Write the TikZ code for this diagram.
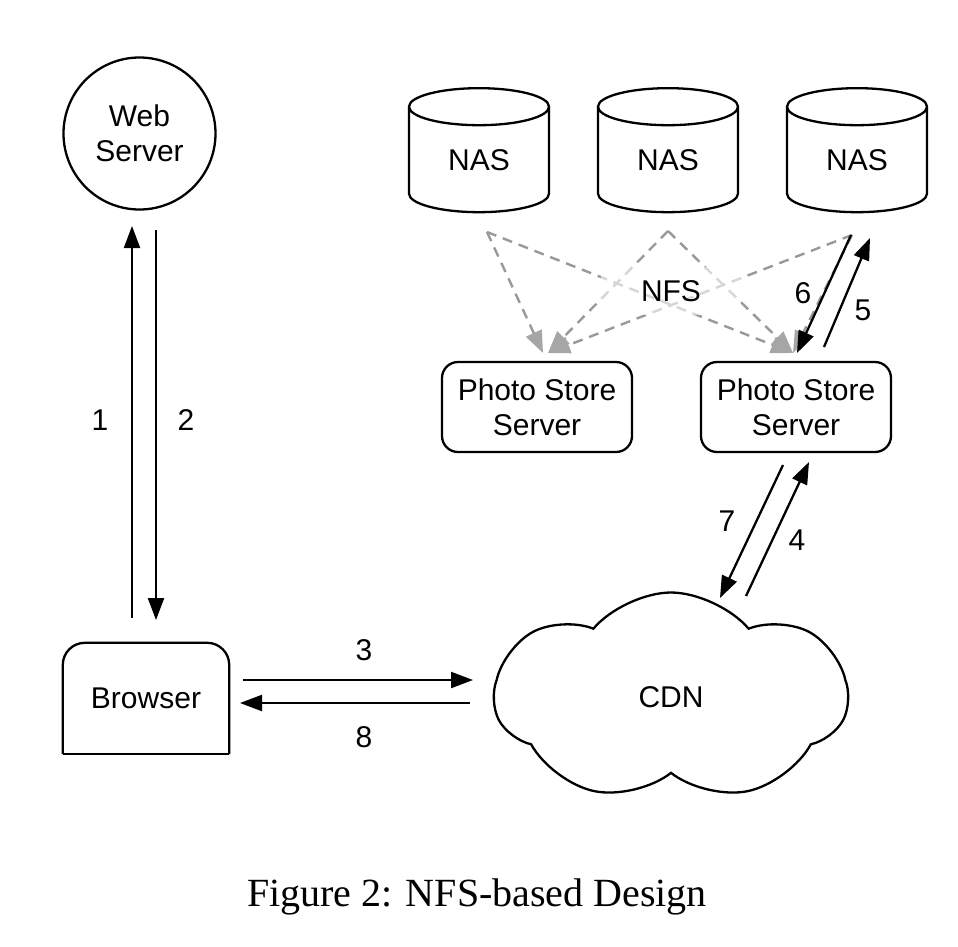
\documentclass[tikz,border=0pt]{standalone}
\usepackage{fontspec}
\setmainfont{Liberation Sans}
\newfontfamily\capfont{Liberation Serif}
\usetikzlibrary{shapes.geometric, shapes.symbols, arrows.meta}
\tikzset{
    every node/.style={font=\fontsize{30}{35}\selectfont, align=center, inner sep=0pt},
    flow/.style={line width=2.3pt, -{Triangle[length=22pt, width=16pt]}},
    nfs/.style={line width=2.4pt, draw=black!40, dash pattern=on 10pt off 7pt,
        -{Triangle[length=22pt, width=17pt, color=black!35]}},
    storage/.style={cylinder, draw, line width=2.3pt, shape border rotate=90,
        aspect=0.6, minimum width=140pt, minimum height=124pt},
    server/.style={draw, line width=2.3pt, rounded corners=16pt,
        minimum width=190pt, minimum height=90pt}
}

\begin{document}
\begin{tikzpicture}[x=1pt, y=-1pt]
	\useasboundingbox (0,0) rectangle (958,946);

	\node (web) [circle, draw, line width=2.3pt, minimum size=152pt] at (139.5, 133.5) {Web\\Server};
	\node (browser) [minimum width=166pt, minimum height=111pt] at (146, 698.5) {Browser};
	\draw [line width=2.3pt, rounded corners=22pt] (browser.south west) -- (browser.north west)
		-- (browser.north east) -- (browser.south east);
	\draw [line width=2.3pt] (browser.south west) -- (browser.south east);
	\node (cdn) [cloud, draw, line width=2.3pt, cloud puffs=7, cloud puff arc=100, aspect=1.7,
		minimum width=353pt, minimum height=209pt] at (671, 697) {CDN};

	\node (pss1) [server] at (537, 407) {Photo Store\\Server};
	\node (pss2) [server] at (796, 407) {Photo Store\\Server};

	\node (nas1) [storage] at (479, 160) {NAS};
	\node (nas2) [storage] at (668, 160) {NAS};
	\node (nas3) [storage] at (857, 160) {NAS};

	\coordinate (w1) at (132, 618); \coordinate (w1e) at (132, 226);
	\coordinate (w2) at (156, 230); \coordinate (w2e) at (156, 620);
	\coordinate (b3) at (243, 680); \coordinate (b3e) at (473, 680);
	\coordinate (c8) at (470, 703); \coordinate (c8e) at (240, 703);
	\coordinate (c4) at (746, 596); \coordinate (c4e) at (809, 462);
	\coordinate (s7) at (783, 465); \coordinate (s7e) at (720, 598);
	\coordinate (s5) at (824, 347); \coordinate (s5e) at (870, 238);
	\coordinate (n6) at (851, 235); \coordinate (n6e) at (797, 353);

	\coordinate (g1) at (487, 232); \coordinate (g2) at (668, 231); \coordinate (g3) at (852, 235);
	\coordinate (t1) at (543, 353); \coordinate (t1b) at (548, 353); \coordinate (t2) at (793, 353);

	\draw [nfs] (g1) -- (t1); \draw [nfs] (g1) -- (t2);
	\draw [nfs] (g2) -- (t1b); \draw [nfs] (g2) -- (t2);
	\draw [nfs] (g3) -- (t1b); \draw [nfs] (g3) -- (t2);
	\node (nfslabel) [fill=white, fill opacity=0.6, text opacity=1,
		minimum width=140pt, minimum height=48pt] at (671, 291) {NFS};

	\draw [flow] (w1) -- (w1e); \draw [flow] (w2) -- (w2e);
	\draw [flow] (b3) -- (b3e); \draw [flow] (c8) -- (c8e);
	\draw [flow] (c4) -- (c4e); \draw [flow] (s7) -- (s7e);
	\draw [flow] (s5) -- (s5e); \draw [flow] (n6) -- (n6e);

	\node (l1) at (100, 420) {1}; \node (l2) at (186, 420) {2};
	\node (l3) at (364, 650) {3}; \node (l8) at (364, 737) {8};
	\node (l7) at (727, 521) {7}; \node (l4) at (797, 540) {4};
	\node (l6) at (803, 293) {6}; \node (l5) at (863, 310) {5};

	\node (caption) [font=\capfont\fontsize{40}{44}\selectfont] at (477, 897) {Figure 2: NFS-based Design};
\end{tikzpicture}
\end{document}
